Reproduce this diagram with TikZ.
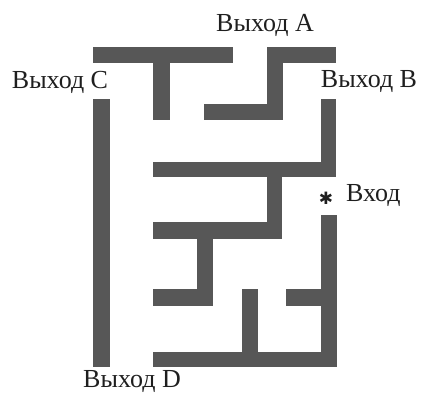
\documentclass[tikz,border=0pt]{standalone}
\usepackage{fontspec}
\setmainfont{Liberation Serif}
\newfontfamily\symfont{DejaVu Sans}
\begin{document}
\begin{tikzpicture}[x=1pt,y=-1pt]
\tikzset{wall/.style={fill=black!66},lbl/.style={inner sep=0pt,text=black!88,font=\fontsize{26}{30}\selectfont}}
\useasboundingbox (0,0) rectangle (421,393);
% top-left T
\fill[wall] (93,47) rectangle (233,63);
\fill[wall] (153,63) rectangle (170,120);
% exit A L-shape
\fill[wall] (267,47) rectangle (336,63);
\fill[wall] (267,63) rectangle (283,120);
\fill[wall] (204,104) rectangle (267,120);
% exit B wall
\fill[wall] (321,99) rectangle (336,177);
\fill[wall] (153,162) rectangle (321,177);
\fill[wall] (267,177) rectangle (282,239);
% middle structure
\fill[wall] (153,222) rectangle (267,239);
\fill[wall] (197,239) rectangle (213,306);
\fill[wall] (153,289) rectangle (197,306);
% left wall
\fill[wall] (93,99) rectangle (110,367);
% bottom structure
\fill[wall] (321,215) rectangle (337,367);
\fill[wall] (286,289) rectangle (321,306);
\fill[wall] (153,352) rectangle (321,367);
\fill[wall] (242,289) rectangle (258,352);
% labels
\node[lbl] (a) at (265,25) {Выход A};
\node[lbl] (c) at (60,82) {Выход C};
\node[lbl] (b) at (369,82) {Выход B};
\node[lbl,anchor=west] (in) at (346,196) {Вход};
\node[lbl] (star) at (326,198) {\symfont\fontsize{17}{17}\selectfont ✱};
\node[lbl] (d) at (132,382) {Выход D};
\end{tikzpicture}
\end{document}
